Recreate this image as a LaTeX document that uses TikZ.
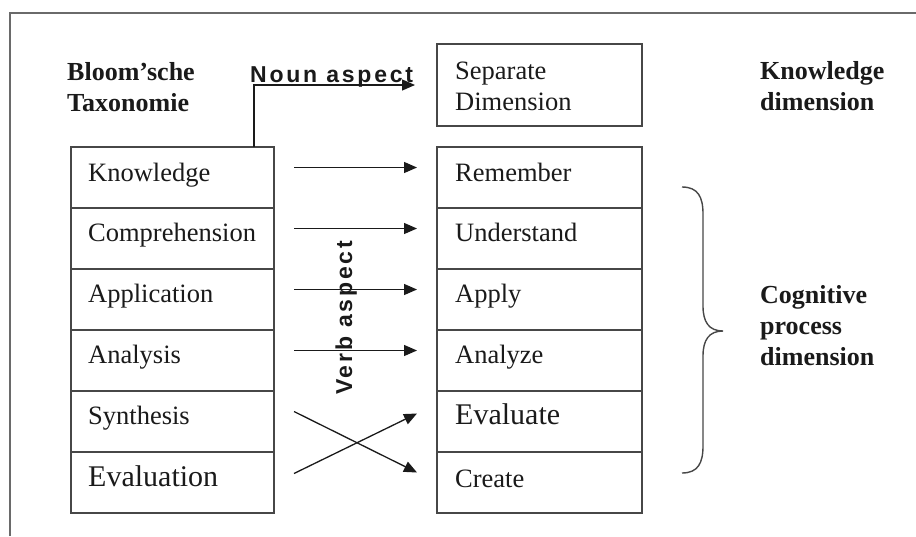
\documentclass[tikz,border=0pt]{standalone}
\usepackage{fontspec}
\setmainfont{Liberation Serif}
\newfontfamily\aspectfont[LetterSpace=12]{Liberation Sans}
\usetikzlibrary{arrows.meta}
\definecolor{ink}{HTML}{1A1A1A}
\definecolor{linec}{HTML}{474747}
\definecolor{framec}{HTML}{6A6A6A}
\begin{document}
\begin{tikzpicture}[x=1pt,y=-1pt,
  frame/.style={draw=framec,line width=1.8pt},
  lrow/.style={draw=linec,line width=1.4pt,minimum width=203pt,minimum height=61pt,inner sep=0pt,outer sep=0pt,anchor=north west},
  rrow/.style={lrow,minimum width=205pt},
  txt/.style={font=\fontsize{26.5}{31}\selectfont,text=ink,inner sep=0pt,anchor=base west},
  bigtxt/.style={txt,font=\fontsize{30}{34}\selectfont},
  hd/.style={font=\bfseries\fontsize{26}{31}\selectfont,text=ink,align=left,inner sep=0pt,anchor=base west},
  aspect/.style={font=\aspectfont\bfseries\fontsize{23}{27}\selectfont,text=ink,inner sep=0pt},
  arr/.style={draw=ink,line width=1.3pt,-{Triangle[length=13pt,width=11pt]}},
  bracec/.style={draw=linec,line width=1.4pt}
]
\useasboundingbox (0,0) rectangle (916,536);
\fill[white] (0,0) rectangle (916,536);
% open outer frame
\draw[frame] (10,536) -- (10,13) -- (916,13);

% Bloom's original categories
\node[lrow] (know) at (71,147) {};
\node[lrow] (comp) at (71,208) {};
\node[lrow] (appl) at (71,269) {};
\node[lrow] (anal) at (71,330) {};
\node[lrow] (synt) at (71,391) {};
\node[lrow] (eval) at (71,452) {};
\node[txt] at ([xshift=17pt,yshift=-34pt]know.north west) {Knowledge};
\node[txt] at ([xshift=17pt,yshift=-33pt]comp.north west) {Comprehension};
\node[txt] at ([xshift=17pt,yshift=-33pt]appl.north west) {Application};
\node[txt] at ([xshift=17pt,yshift=-33pt]anal.north west) {Analysis};
\node[txt] at ([xshift=17pt,yshift=-33pt]synt.north west) {Synthesis};
\node[bigtxt] at ([xshift=17pt,yshift=-34pt]eval.north west) {Evaluation};

% revised categories
\node[rrow,minimum height=82pt] (sep) at (437,44) {};
\node[rrow] (reme) at (437,147) {};
\node[rrow] (unde) at (437,208) {};
\node[rrow] (appy) at (437,269) {};
\node[rrow] (anze) at (437,330) {};
\node[rrow] (evte) at (437,391) {};
\node[rrow] (crea) at (437,452) {};
% multi-line nodes sit on the baseline of their last line
\node[txt,align=left] at ([xshift=18pt,yshift=-66pt]sep.north west) {Separate\\Dimension};
\node[txt] at ([xshift=18pt,yshift=-34pt]reme.north west) {Remember};
\node[txt] at ([xshift=18pt,yshift=-33pt]unde.north west) {Understand};
\node[txt] at ([xshift=18pt,yshift=-33pt]appy.north west) {Apply};
\node[txt] at ([xshift=18pt,yshift=-33pt]anze.north west) {Analyze};
\node[bigtxt] at ([xshift=18pt,yshift=-33pt]evte.north west) {Evaluate};
\node[txt] at ([xshift=18pt,yshift=-35pt]crea.north west) {Create};

% headings
\node[hd] (bloom) at (67,111) {Bloom'sche\\Taxonomie};
\node[hd] (kdim) at (760,110) {Knowledge\\dimension};
\node[hd] (cpd) at (760,365) {Cognitive\\process\\dimension};

% aspect labels
\node[aspect,anchor=base west] (noun) at (250,82) {Noun aspect};
\node[aspect,rotate=90,anchor=base] (verb) at (352,318) {Verb aspect};

% mappings
\draw[arr] ([xshift=81.5pt]know.north) |- ([xshift=-22pt]sep.west);
\draw[arr] ([xshift=20pt,yshift=10pt]know.east) -- ([xshift=-20pt,yshift=10pt]reme.west);
\draw[arr] ([xshift=20pt,yshift=10pt]comp.east) -- ([xshift=-20pt,yshift=10pt]unde.west);
\draw[arr] ([xshift=20pt,yshift=10pt]appl.east) -- ([xshift=-20pt,yshift=10pt]appy.west);
\draw[arr] ([xshift=20pt,yshift=10pt]anal.east) -- ([xshift=-20pt,yshift=10pt]anze.west);
\draw[arr] ([xshift=20pt,yshift=10pt]synt.east) -- ([xshift=-20pt,yshift=10pt]crea.west);
\draw[arr] ([xshift=20pt,yshift=9pt]eval.east) -- ([xshift=-20pt,yshift=8pt]evte.west);

% curly brace spanning the cognitive process rows
\draw[bracec] (682,187) .. controls (698,187) and (703,197) .. (703,214)
  -- (703,306) .. controls (703,322) and (709,331) .. (723,331)
  .. controls (709,331) and (703,340) .. (703,356)
  -- (703,446) .. controls (703,463) and (698,473) .. (682,473);
\end{tikzpicture}
\end{document}
